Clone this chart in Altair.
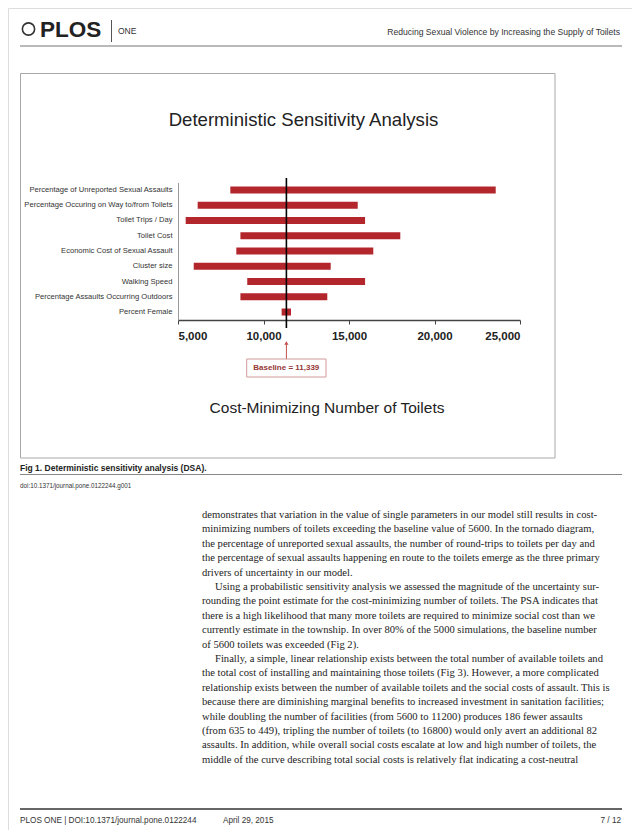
import altair as alt
import pandas as pd

# ---------------- data ----------------
params = [
    "Percentage of Unreported Sexual Assaults",
    "Percentage Occuring on Way to/from Toilets",
    "Toilet Trips / Day",
    "Toilet Cost",
    "Economic Cost of Sexual Assault",
    "Cluster size",
    "Walking Speed",
    "Percentage Assaults Occurring Outdoors",
    "Percent Female",
]
low_vals = [8060, 6150, 5450, 8650, 8410, 5920, 9050, 8650, 11060]
high_vals = [23580, 15510, 15940, 18000, 16420, 13930, 15940, 13730, 11610]
baseline = 11339
x_ticks = [5000, 10000, 15000, 20000, 25000]

chart_title = "Deterministic Sensitivity Analysis"
axis_title = "Cost-Minimizing Number of Toilets"
running_head = "Reducing Sexual Violence by Increasing the Supply of Toilets"
caption = "Fig 1. Deterministic sensitivity analysis (DSA)."
doi_line = "doi:10.1371/journal.pone.0122244.g001"
footer_left = "PLOS ONE | DOI:10.1371/journal.pone.0122244"
footer_date = "April 29, 2015"
footer_right = "7 / 12"

body_lines = [
    "demonstrates that variation in the value of single parameters in our model still results in cost-",
    "minimizing numbers of toilets exceeding the baseline value of 5600. In the tornado diagram,",
    "the percentage of unreported sexual assaults, the number of round-trips to toilets per day and",
    "the percentage of sexual assaults happening en route to the toilets emerge as the three primary",
    "drivers of uncertainty in our model.",
    "Using a probabilistic sensitivity analysis we assessed the magnitude of the uncertainty sur-",
    "rounding the point estimate for the cost-minimizing number of toilets. The PSA indicates that",
    "there is a high likelihood that many more toilets are required to minimize social cost than we",
    "currently estimate in the township. In over 80% of the 5000 simulations, the baseline number",
    "of 5600 toilets was exceeded (Fig 2).",
    "Finally, a simple, linear relationship exists between the total number of available toilets and",
    "the total cost of installing and maintaining those toilets (Fig 3). However, a more complicated",
    "relationship exists between the number of available toilets and the social costs of assault. This is",
    "because there are diminishing marginal benefits to increased investment in sanitation facilities;",
    "while doubling the number of facilities (from 5600 to 11200) produces 186 fewer assaults",
    "(from 635 to 449), tripling the number of toilets (to 16800) would only avert an additional 82",
    "assaults. In addition, while overall social costs escalate at low and high number of toilets, the",
    "middle of the curve describing total social costs is relatively flat indicating a cost-neutral",
]
indented = [5, 10]

# ---------------- layout ----------------
W, H = 624, 822
M = 8  # page margin: page coords -> plot coords
RED = "#b3262c"
SANS = "Liberation Sans"
SERIF = "Liberation Serif"

xscale = alt.Scale(domain=[5000, 25000], range=[178 - M, 520 - M], nice=False, zero=False)
yscale = alt.Scale(domain=params, range=[182.35 - M, 319.65 - M], paddingInner=0.54, paddingOuter=0.27)

df = pd.DataFrame({"param": params, "low": low_vals, "high": high_vals})

bars = alt.Chart(df).mark_bar(color=RED).encode(
    y=alt.Y("param:N", sort=params, scale=yscale,
            axis=alt.Axis(title=None, orient="left", offset=-(178 - M), ticks=False,
                          labelFont=SANS, labelFontSize=7.6, labelColor="#333",
                          labelPadding=6, domainColor="#9a9a9a", domainWidth=1,
                          labelLimit=300)),
    x=alt.X("low:Q", scale=xscale,
            axis=alt.Axis(orient="bottom", offset=(320 - M) - H, values=x_ticks, format=",d",
                          labelFont=SANS, labelFontSize=11.5, labelFontWeight="bold",
                          labelColor="#222", labelPadding=6, tickSize=4, tickColor="#444",
                          domainColor="#444", domainWidth=1.6, grid=False,
                          title=axis_title, titleFont=SANS, titleFontSize=15.5,
                          titleFontWeight="normal", titleColor="#222",
                          titleX=326.5 - M, titleY=407 - 320, titleBaseline="middle",
                          titleAnchor="middle")),
    x2="high:Q",
)

bdf = pd.DataFrame({"b": [baseline]})
base_rule = alt.Chart(bdf).mark_rule(color="black", strokeWidth=1.6).encode(
    x=alt.X("b:Q", scale=xscale, axis=None),
    y=alt.value(178 - M), y2=alt.value(328 - M),
)
arrow = alt.Chart(bdf).mark_rule(color="#c0504d", strokeWidth=1).encode(
    x=alt.X("b:Q", scale=xscale, axis=None),
    y=alt.value(343 - M), y2=alt.value(359 - M),
)
arrow_head = alt.Chart(bdf).mark_point(shape="triangle-up", filled=True, color="#c0504d",
                                       size=18, opacity=1).encode(
    x=alt.X("b:Q", scale=xscale, axis=None),
    y=alt.value(343 - M),
)
box = alt.Chart(bdf).mark_rect(fill="white", stroke="#d09a98", strokeWidth=1).encode(
    x=alt.value(246.7 - M), x2=alt.value(326 - M),
    y=alt.value(359 - M), y2=alt.value(377 - M),
)
box_text = alt.Chart(bdf).mark_text(font=SANS, fontSize=8, fontWeight="bold",
                                    color="#953735", align="center", baseline="middle").encode(
    x=alt.value(286.3 - M), y=alt.value(368 - M),
    text=alt.value(f"Baseline = {baseline:,}"),
)


def text_layer(rows, **kw):
    d = pd.DataFrame(rows, columns=["x", "y", "t"])
    d["x"] = d["x"] - M
    d["y"] = d["y"] - M
    return alt.Chart(d).mark_text(baseline="middle", **kw).encode(
        x=alt.X("x:Q", scale=None, axis=None),
        y=alt.Y("y:Q", scale=None, axis=None),
        text="t:N",
    )


def hline(x1, x2, y, color, w):
    return alt.Chart(bdf).mark_rule(color=color, strokeWidth=w).encode(
        x=alt.value(x1 - M), x2=alt.value(x2 - M), y=alt.value(y - M))


title_l = text_layer([(303.5, 120, chart_title)], font=SANS, fontSize=18.6, color="#222", align="center")

frame = alt.Chart(bdf).mark_rect(fill=None, stroke="#a8a8a8", strokeWidth=1).encode(
    x=alt.value(20.5 - M), x2=alt.value(555 - M),
    y=alt.value(73.5 - M), y2=alt.value(458 - M),
)

# header
logo_circle = alt.Chart(bdf).mark_point(shape="circle", filled=False, size=150, color="#333",
                                        strokeWidth=1.6, opacity=1).encode(
    x=alt.value(28.5 - M), y=alt.value(29 - M))
logo_text = text_layer([(40, 30, "PLOS")], font=SANS, fontSize=22.5, fontWeight="bold",
                       color="#222", align="left")
one_text = text_layer([(118, 31, "ONE")], font=SANS, fontSize=8.5, color="#333", align="left")
sep = alt.Chart(bdf).mark_rule(color="#555", strokeWidth=1).encode(
    x=alt.value(111.5 - M), y=alt.value(20 - M), y2=alt.value(42 - M))
head_text = text_layer([(620, 32, running_head)], font=SANS, fontSize=8.6, color="#333", align="right")
head_line = hline(20, 622, 46, "#777", 1.2)

# caption
cap_text = text_layer([(20, 468, caption)], font=SANS, fontSize=8.5, fontWeight="bold",
                      color="#222", align="left")
cap_line = hline(20, 622, 474.5, "#888", 1)
doi_text = text_layer([(20, 486, doi_line)], font=SANS, fontSize=6.3, color="#333", align="left")

# body
body_rows = [(215 if i in indented else 202, 515 + i * 14.4, s) for i, s in enumerate(body_lines)]
body = text_layer(body_rows, font=SERIF, fontSize=10.6, color="#222", align="left")

# footer
foot_line = hline(20, 622, 809, "#333", 1.5)
foot_l = text_layer([(20, 821, footer_left), (223, 821, footer_date)], font=SANS, fontSize=8.2,
                    color="#333", align="left")
foot_r = text_layer([(621, 821, footer_right)], font=SANS, fontSize=8.2, color="#333", align="right")

chart = alt.layer(
    frame, bars, base_rule, arrow, arrow_head, box, box_text, title_l,
    logo_circle, logo_text, one_text, sep, head_text, head_line,
    cap_text, cap_line, doi_text, body, foot_line, foot_l, foot_r,
).resolve_scale(x="independent", y="independent").properties(
    width=W, height=H, padding=0, autosize=alt.AutoSizeParams(type="none"),
).configure_view(stroke=None).configure(background="white")

chart.save("out.html", embed_options={"renderer": "svg", "actions": False})
